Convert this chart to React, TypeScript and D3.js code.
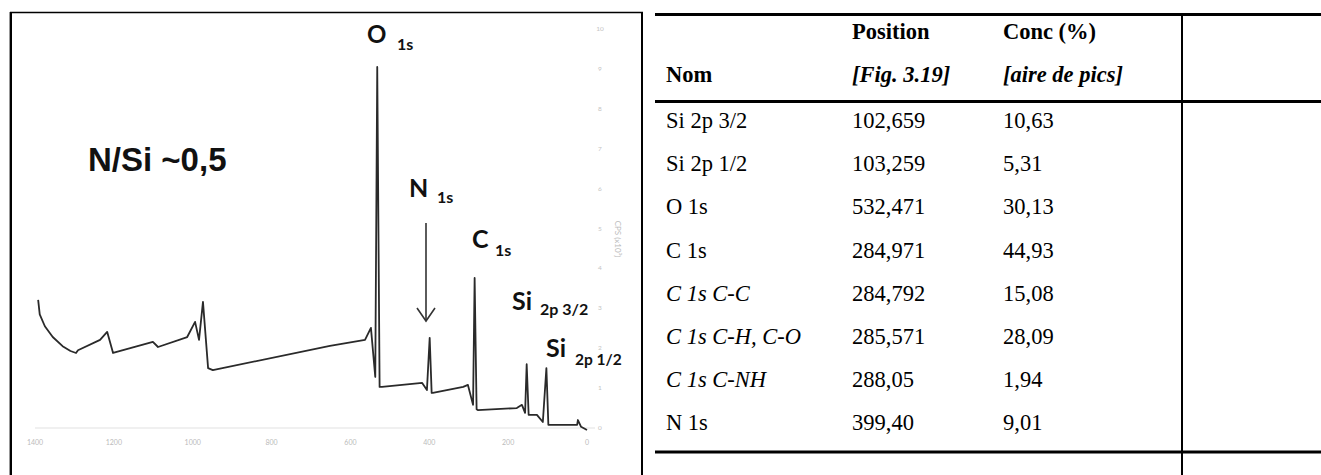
import * as d3 from 'd3';

// spectre XPS (énergie de liaison en eV, CPS en unités d'axe)
const energies = [1392, 1388, 1375, 1355, 1330, 1310, 1296, 1291, 1235, 1217, 1202, 1101, 1088, 1014, 994, 984, 974, 961, 949, 652, 563, 548, 537, 532, 526, 520, 418, 406, 399, 394, 391, 314, 302, 289, 285, 280, 277, 178, 165, 157, 153, 148, 145, 127, 112, 103, 98, 96, 25, 23, 15, 0];
const counts = [3.21, 2.85, 2.55, 2.28, 2.05, 1.93, 1.88, 1.95, 2.21, 2.41, 1.88, 2.16, 2.03, 2.28, 2.66, 2.21, 3.16, 1.5, 1.45, 2.06, 2.21, 2.51, 1.28, 9.05, 1.03, 1.03, 1.13, 0.95, 2.26, 0.88, 0.88, 1.03, 1.08, 0.58, 3.76, 0.47, 0.45, 0.5, 0.58, 0.38, 1.6, 0.33, 0.33, 0.33, 0.15, 1.5, 0.08, 0.08, 0.08, 0.2, 0.03, -0.05];

const xTicks = [1400, 1200, 1000, 800, 600, 400, 200, 0];
const yTicks = [0, 1, 2, 3, 4, 5, 6, 7, 8, 9, 10];

// tableau
const noms = ['Si 2p 3/2', 'Si 2p 1/2', 'O 1s', 'C 1s', 'C 1s C-C', 'C 1s C-H, C-O', 'C 1s C-NH', 'N 1s'];
const positions = ['102,659', '103,259', '532,471', '284,971', '284,792', '285,571', '288,05', '399,40'];
const concs = ['10,63', '5,31', '30,13', '44,93', '15,08', '28,09', '1,94', '9,01'];
const italique = [false, false, false, false, true, true, true, false];

const W = 1321;
const H = 475;

export default function App() {
  const x = d3.scaleLinear().domain([1400, 0]).range([35, 587]);
  const y = d3.scaleLinear().domain([0, 10]).range([428, 29]);

  const line = d3
    .line<number>()
    .x((_, i) => x(energies[i]))
    .y((d) => y(d));

  const rowY = d3.scaleLinear().domain([0, 1]).range([128, 171.2]);

  const lab = { fontFamily: 'Lato, "Open Sans", sans-serif', fontWeight: 700, fill: '#111' };
  const serif = { fontFamily: '"Liberation Serif", "Times New Roman", serif', fontSize: 22.5, fill: '#000' };

  return (
    <svg width={W} height={H} style={{ position: 'absolute', left: 0, top: 0, background: '#fff' }}>
      {/* cadre du graphique */}
      <line x1={10} x2={643} y1={12.5} y2={12.5} stroke="#000" strokeWidth={1.5} />
      <line x1={10.8} x2={10.8} y1={12} y2={H} stroke="#000" strokeWidth={2.4} />
      <line x1={642} x2={642} y1={12} y2={H} stroke="#000" strokeWidth={2} />

      {/* axes pâles */}
      <line x1={35} x2={595} y1={y(0)} y2={y(0)} stroke="#e2e2e2" strokeWidth={1.2} />
      {xTicks.map((t) => (
        <text key={t} x={x(t)} y={445} textAnchor="middle" fontSize={7} fill="#bbb" fontFamily="Lato, sans-serif">
          {t}
        </text>
      ))}
      {yTicks.map((t) => (
        <text key={t} x={600} y={y(t) + 2} textAnchor="middle" fontSize={6.5} fill="#c4c4c4" fontFamily="Lato, sans-serif">
          {t}
        </text>
      ))}
      <text
        transform={`translate(615,239) rotate(90)`}
        textAnchor="middle"
        fontSize={8}
        fill="#bbb"
        fontFamily="Lato, sans-serif"
      >
        CPS (x10³)
      </text>

      {/* spectre */}
      <path d={line(counts) ?? ''} fill="none" stroke="#2a2a2a" strokeWidth={1.8} strokeLinejoin="round" />

      {/* annotations */}
      <text x={88} y={171} fontFamily='"Liberation Sans", Arial, sans-serif' fontWeight={700} fontSize={33} fill="#111">
        N/Si ~0,5
      </text>
      <text x={367} y={43} {...lab} fontSize={24}>O</text>
      <text x={397} y={50} {...lab} fontSize={16}>1s</text>
      <text x={409} y={197} {...lab} fontSize={25}>N</text>
      <text x={437} y={203} {...lab} fontSize={16}>1s</text>
      <text x={472} y={248} {...lab} fontSize={25}>C</text>
      <text x={495} y={256} {...lab} fontSize={16}>1s</text>
      <text x={512} y={310} {...lab} fontSize={25}>Si</text>
      <text x={540} y={315} {...lab} fontSize={16}>2p 3/2</text>
      <text x={546} y={357} {...lab} fontSize={25}>Si</text>
      <text x={575} y={364.5} {...lab} fontSize={15.5}>2p 1/2</text>

      {/* flèche N 1s */}
      <line x1={426} x2={426} y1={223} y2={321} stroke="#333" strokeWidth={1.6} />
      <polyline points="417,308 426,321 435,308" fill="none" stroke="#333" strokeWidth={1.6} />

      {/* tableau */}
      <line x1={655} x2={W} y1={14.5} y2={14.5} stroke="#000" strokeWidth={3} />
      <line x1={655} x2={W} y1={101.5} y2={101.5} stroke="#000" strokeWidth={3} />
      <line x1={655} x2={W} y1={452} y2={452} stroke="#000" strokeWidth={3} />
      <line x1={1182} x2={1182} y1={13} y2={H} stroke="#000" strokeWidth={2} />

      <text x={852} y={39} {...serif} fontWeight={700}>Position</text>
      <text x={1003} y={39} {...serif} fontWeight={700}>Conc (%)</text>
      <text x={666} y={82} {...serif} fontWeight={700}>Nom</text>
      <text x={852} y={82} {...serif} fontWeight={700} fontStyle="italic">[Fig. 3.19]</text>
      <text x={1003} y={82} {...serif} fontWeight={700} fontStyle="italic">[aire de pics]</text>

      {noms.map((n, i) => (
        <g key={n}>
          <text x={666} y={rowY(i)} {...serif} fontStyle={italique[i] ? 'italic' : 'normal'}>
            {n}
          </text>
          <text x={852} y={rowY(i)} {...serif}>{positions[i]}</text>
          <text x={1003} y={rowY(i)} {...serif}>{concs[i]}</text>
        </g>
      ))}
    </svg>
  );
}
